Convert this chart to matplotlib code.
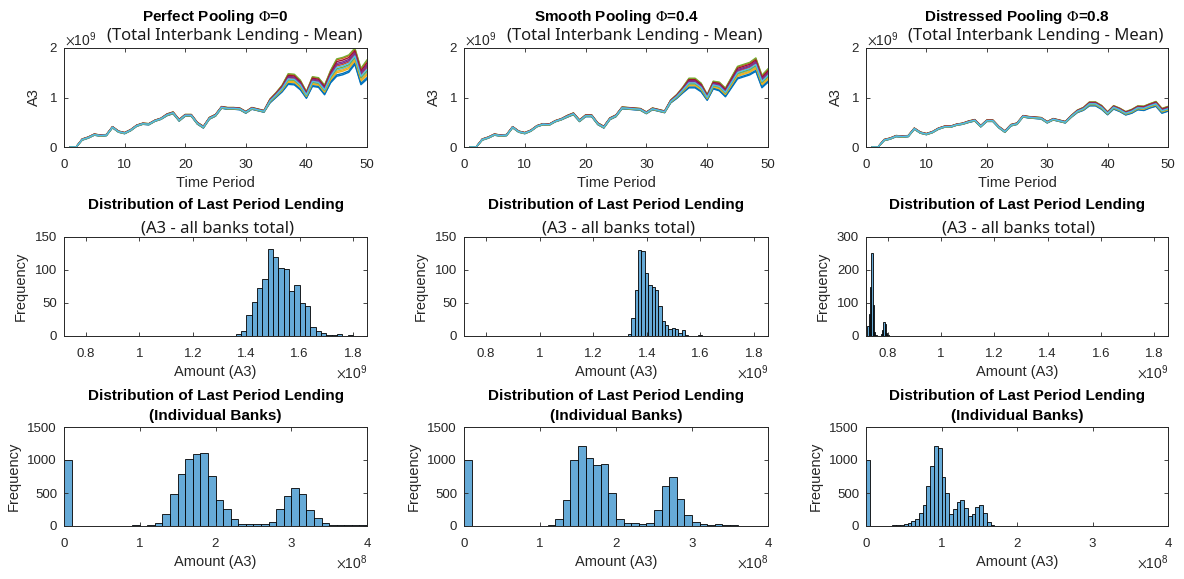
import matplotlib.pyplot as plt
import numpy as np
from matplotlib.ticker import FuncFormatter

W, H = 1184, 579

plt.rcParams['font.family'] = ['Liberation Sans', 'DejaVu Sans']
plt.rcParams['mathtext.fontset'] = 'stix'

# ---- top row: simulated paths of total interbank lending (units of 1e9) ----
periods = list(range(1, 51))

mean_perfect = [0.00, 0.00, 0.15, 0.19, 0.25, 0.23, 0.24, 0.40, 0.31, 0.28,
                0.34, 0.43, 0.47, 0.46, 0.53, 0.57, 0.65, 0.69, 0.54, 0.64,
                0.64, 0.48, 0.40, 0.58, 0.64, 0.80, 0.78, 0.78, 0.77, 0.70,
                0.78, 0.75, 0.72, 0.93, 1.05, 1.18, 1.37, 1.36, 1.25, 1.05,
                1.32, 1.30, 1.15, 1.42, 1.60, 1.63, 1.68, 1.83, 1.42, 1.56]
spread_perfect = [0.0, 0.0] + [0.012] * 14 + [0.018] * 17 + \
                 [0.04, 0.05, 0.07, 0.11, 0.11, 0.10, 0.07, 0.10, 0.10, 0.10,
                  0.13, 0.18, 0.18, 0.18, 0.17, 0.17, 0.20]

mean_smooth = [0.00, 0.00, 0.15, 0.19, 0.25, 0.23, 0.24, 0.40, 0.31, 0.28,
               0.33, 0.42, 0.46, 0.45, 0.52, 0.56, 0.62, 0.67, 0.53, 0.63,
               0.63, 0.47, 0.40, 0.57, 0.63, 0.79, 0.78, 0.77, 0.76, 0.69,
               0.77, 0.74, 0.71, 0.92, 1.02, 1.15, 1.29, 1.29, 1.20, 1.00,
               1.25, 1.22, 1.10, 1.30, 1.50, 1.54, 1.58, 1.66, 1.32, 1.44]
spread_smooth = [0.0, 0.0] + [0.012] * 14 + [0.018] * 17 + \
                [0.03, 0.04, 0.06, 0.10, 0.10, 0.09, 0.06, 0.08, 0.09, 0.09,
                 0.11, 0.13, 0.13, 0.13, 0.14, 0.13, 0.14]

mean_distressed = [0.00, 0.00, 0.14, 0.17, 0.22, 0.21, 0.22, 0.37, 0.29, 0.26,
                   0.30, 0.37, 0.41, 0.41, 0.45, 0.47, 0.51, 0.54, 0.42, 0.53,
                   0.53, 0.40, 0.31, 0.44, 0.47, 0.62, 0.60, 0.59, 0.58, 0.50,
                   0.56, 0.53, 0.50, 0.62, 0.72, 0.77, 0.87, 0.87, 0.80, 0.68,
                   0.80, 0.75, 0.68, 0.72, 0.79, 0.78, 0.83, 0.87, 0.73, 0.77]
spread_distressed = [0.0, 0.0] + [0.012] * 14 + [0.015] * 17 + \
                    [0.02, 0.025, 0.03, 0.04, 0.04, 0.04, 0.03, 0.035, 0.035,
                     0.035, 0.04, 0.04, 0.045, 0.045, 0.05, 0.05, 0.05]

# where each plotted run sits inside the spread band
run_offsets = [-0.95, 0.9, -0.55, 0.5, 1.0, -0.25, 0.7, -0.8, 0.2, -0.4,
               0.35, -0.1, 0.05]

# ---- middle row: histogram of last-period total lending ----
total_start = [1.36e9, 1.33e9, 0.7235e9]
total_width = [0.02e9, 0.0125e9, 0.005e9]
total_counts_perfect = [3, 8, 32, 52, 72, 87, 132, 119, 103, 101, 68, 77,
                        50, 45, 14, 8, 5, 2, 2, 3, 0, 1]
total_counts_smooth = [3, 28, 69, 130, 129, 95, 77, 74, 70, 45, 23, 17, 10,
                       12, 10, 4, 9, 2, 0, 0, 0, 1]
total_counts_distressed = [30, 68, 148, 252, 95, 12, 3, 0, 0, 0, 5, 18, 42,
                           37, 10, 2]

# ---- bottom row: histogram of last-period lending per bank ----
indiv_width = [1e7, 1e7, 5e6]
indiv_counts_perfect = [1000, 0, 0, 0, 0, 0, 0, 0, 0, 10,
                        5, 12, 45, 175, 480, 790, 1010, 1090, 1110, 760,
                        400, 255, 110, 30, 28, 28, 30, 60, 260, 460,
                        570, 480, 245, 120, 50, 12, 10, 8, 8, 8]
indiv_counts_smooth = [1000, 0, 0, 0, 0, 0, 0, 0, 0, 0,
                       0, 10, 110, 400, 1000, 1210, 1035, 925, 940, 500,
                       110, 45, 45, 35, 45, 245, 600, 750, 410, 170,
                       60, 35, 20, 25, 12, 10]
indiv_counts_distressed = [1000, 0, 0, 0, 0, 0, 0, 8, 8, 12,
                           25, 50, 75, 110, 190, 320, 610, 910, 1210, 1180,
                           750, 500, 180, 260, 360, 400, 270, 150, 180, 290,
                           320, 200, 60, 10]

titles = [r'Perfect Pooling $\Phi$=0', r'Smooth Pooling $\Phi$=0.4',
          r'Distressed Pooling $\Phi$=0.8']

means = [mean_perfect, mean_smooth, mean_distressed]
spreads = [spread_perfect, spread_smooth, spread_distressed]
totals = [total_counts_perfect, total_counts_smooth, total_counts_distressed]
indivs = [indiv_counts_perfect, indiv_counts_smooth, indiv_counts_distressed]

matlab_colors = ['#0072BD', '#D95319', '#EDB120', '#7E2F8E', '#77AC30',
                 '#4DBEEE', '#A2142F']
bar_face = (0.4, 0.668, 0.845)
ink = '#262626'

col_left = [64, 464, 866]
col_right = [367, 768, 1168]
row_top = [48, 237, 427]
row_bottom = [147, 336, 526]

fig = plt.figure(figsize=(W / 100, H / 100), dpi=100)


def make_axes(r, c):
    l, rr = col_left[c], col_right[c]
    t, b = row_top[r], row_bottom[r]
    ax = fig.add_axes([l / W, 1 - b / H, (rr - l) / W, (b - t) / H])
    ax.tick_params(direction='in', top=True, right=True, length=3,
                   width=0.6, labelsize=9.5, colors=ink)
    ax.tick_params(axis='x', pad=8.5)
    ax.tick_params(axis='y', pad=5)
    for s in ax.spines.values():
        s.set_color(ink)
        s.set_linewidth(0.7)
    return ax


def px_text(x, y, s, **kw):
    fig.text(x / W, 1 - y / H, s, **kw)


def scaled(power):
    return FuncFormatter(lambda v, p: f'{v / 10 ** power:g}')


for c in range(3):
    cx = (col_left[c] + col_right[c]) / 2

    # top row: paths
    ax = make_axes(0, c)
    for i, off in enumerate(run_offsets):
        y = [(m + off * s) * 1e9 for m, s in zip(means[c], spreads[c])]
        ax.plot(periods, y, color=matlab_colors[i % 7], lw=1.0)
    ax.set_xlim(0, 50)
    ax.set_ylim(0, 2e9)
    ax.set_xticks([0, 10, 20, 30, 40, 50])
    ax.set_yticks([0, 1e9, 2e9])
    ax.yaxis.set_major_formatter(scaled(9))
    ax.set_xlabel('Time Period', fontsize=10.5, color=ink, labelpad=4)
    ax.set_ylabel('A3', fontsize=10.5, color=ink, labelpad=6)
    px_text(cx, 17, titles[c], ha='center', va='center', fontsize=11,
            fontweight='bold', color='black')
    px_text(cx + 19, 36, '(Total Interbank Lending - Mean)', ha='center',
            va='center', fontsize=12, family='Noto Sans', color='#1a1a1a')
    px_text(col_left[c] + 1, 40, r'$\times\mathregular{10^9}$', ha='left',
            va='center', fontsize=10, color=ink)

    # middle row: total lending histogram
    ax = make_axes(1, c)
    counts = totals[c]
    edges = total_start[c] + total_width[c] * np.arange(len(counts))
    ax.bar(edges, counts, width=total_width[c], align='edge', color=bar_face,
           edgecolor='black', linewidth=0.6)
    ax.set_xlim(0.718e9, 1.852e9)
    ax.set_xticks([0.8e9, 1.0e9, 1.2e9, 1.4e9, 1.6e9, 1.8e9])
    ax.xaxis.set_major_formatter(scaled(9))
    if c == 2:
        ax.set_ylim(0, 300)
        ax.set_yticks([0, 100, 200, 300])
    else:
        ax.set_ylim(0, 150)
        ax.set_yticks([0, 50, 100, 150])
    ax.set_xlabel('Amount (A3)', fontsize=10.5, color=ink, labelpad=4)
    ax.set_ylabel('Frequency', fontsize=10.5, color=ink, labelpad=5)
    px_text(cx, 205, 'Distribution of Last Period Lending', ha='center',
            va='center', fontsize=11, fontweight='bold', color='black')
    px_text(cx + 2, 228, '(A3 - all banks total)', ha='center', va='center',
            fontsize=12, family='Noto Sans', color='#1a1a1a')
    px_text(col_right[c], 373, r'$\times\mathregular{10^9}$', ha='right',
            va='center', fontsize=10, color=ink)

    # bottom row: individual bank histogram
    ax = make_axes(2, c)
    counts = indivs[c]
    edges = indiv_width[c] * np.arange(len(counts))
    ax.bar(edges, counts, width=indiv_width[c], align='edge', color=bar_face,
           edgecolor='black', linewidth=0.6)
    ax.set_xlim(0, 4e8)
    ax.set_ylim(0, 1500)
    ax.set_xticks([0, 1e8, 2e8, 3e8, 4e8])
    ax.set_yticks([0, 500, 1000, 1500])
    ax.xaxis.set_major_formatter(scaled(8))
    ax.set_xlabel('Amount (A3)', fontsize=10.5, color=ink, labelpad=4)
    ax.set_ylabel('Frequency', fontsize=10.5, color=ink, labelpad=5)
    px_text(cx, 396, 'Distribution of Last Period Lending', ha='center',
            va='center', fontsize=11, fontweight='bold', color='black')
    px_text(cx, 416, '(Individual Banks)', ha='center', va='center',
            fontsize=11, fontweight='bold', color='black')
    px_text(col_right[c], 563, r'$\times\mathregular{10^8}$', ha='right',
            va='center', fontsize=10, color=ink)

fig.savefig('out.png', dpi=100)
